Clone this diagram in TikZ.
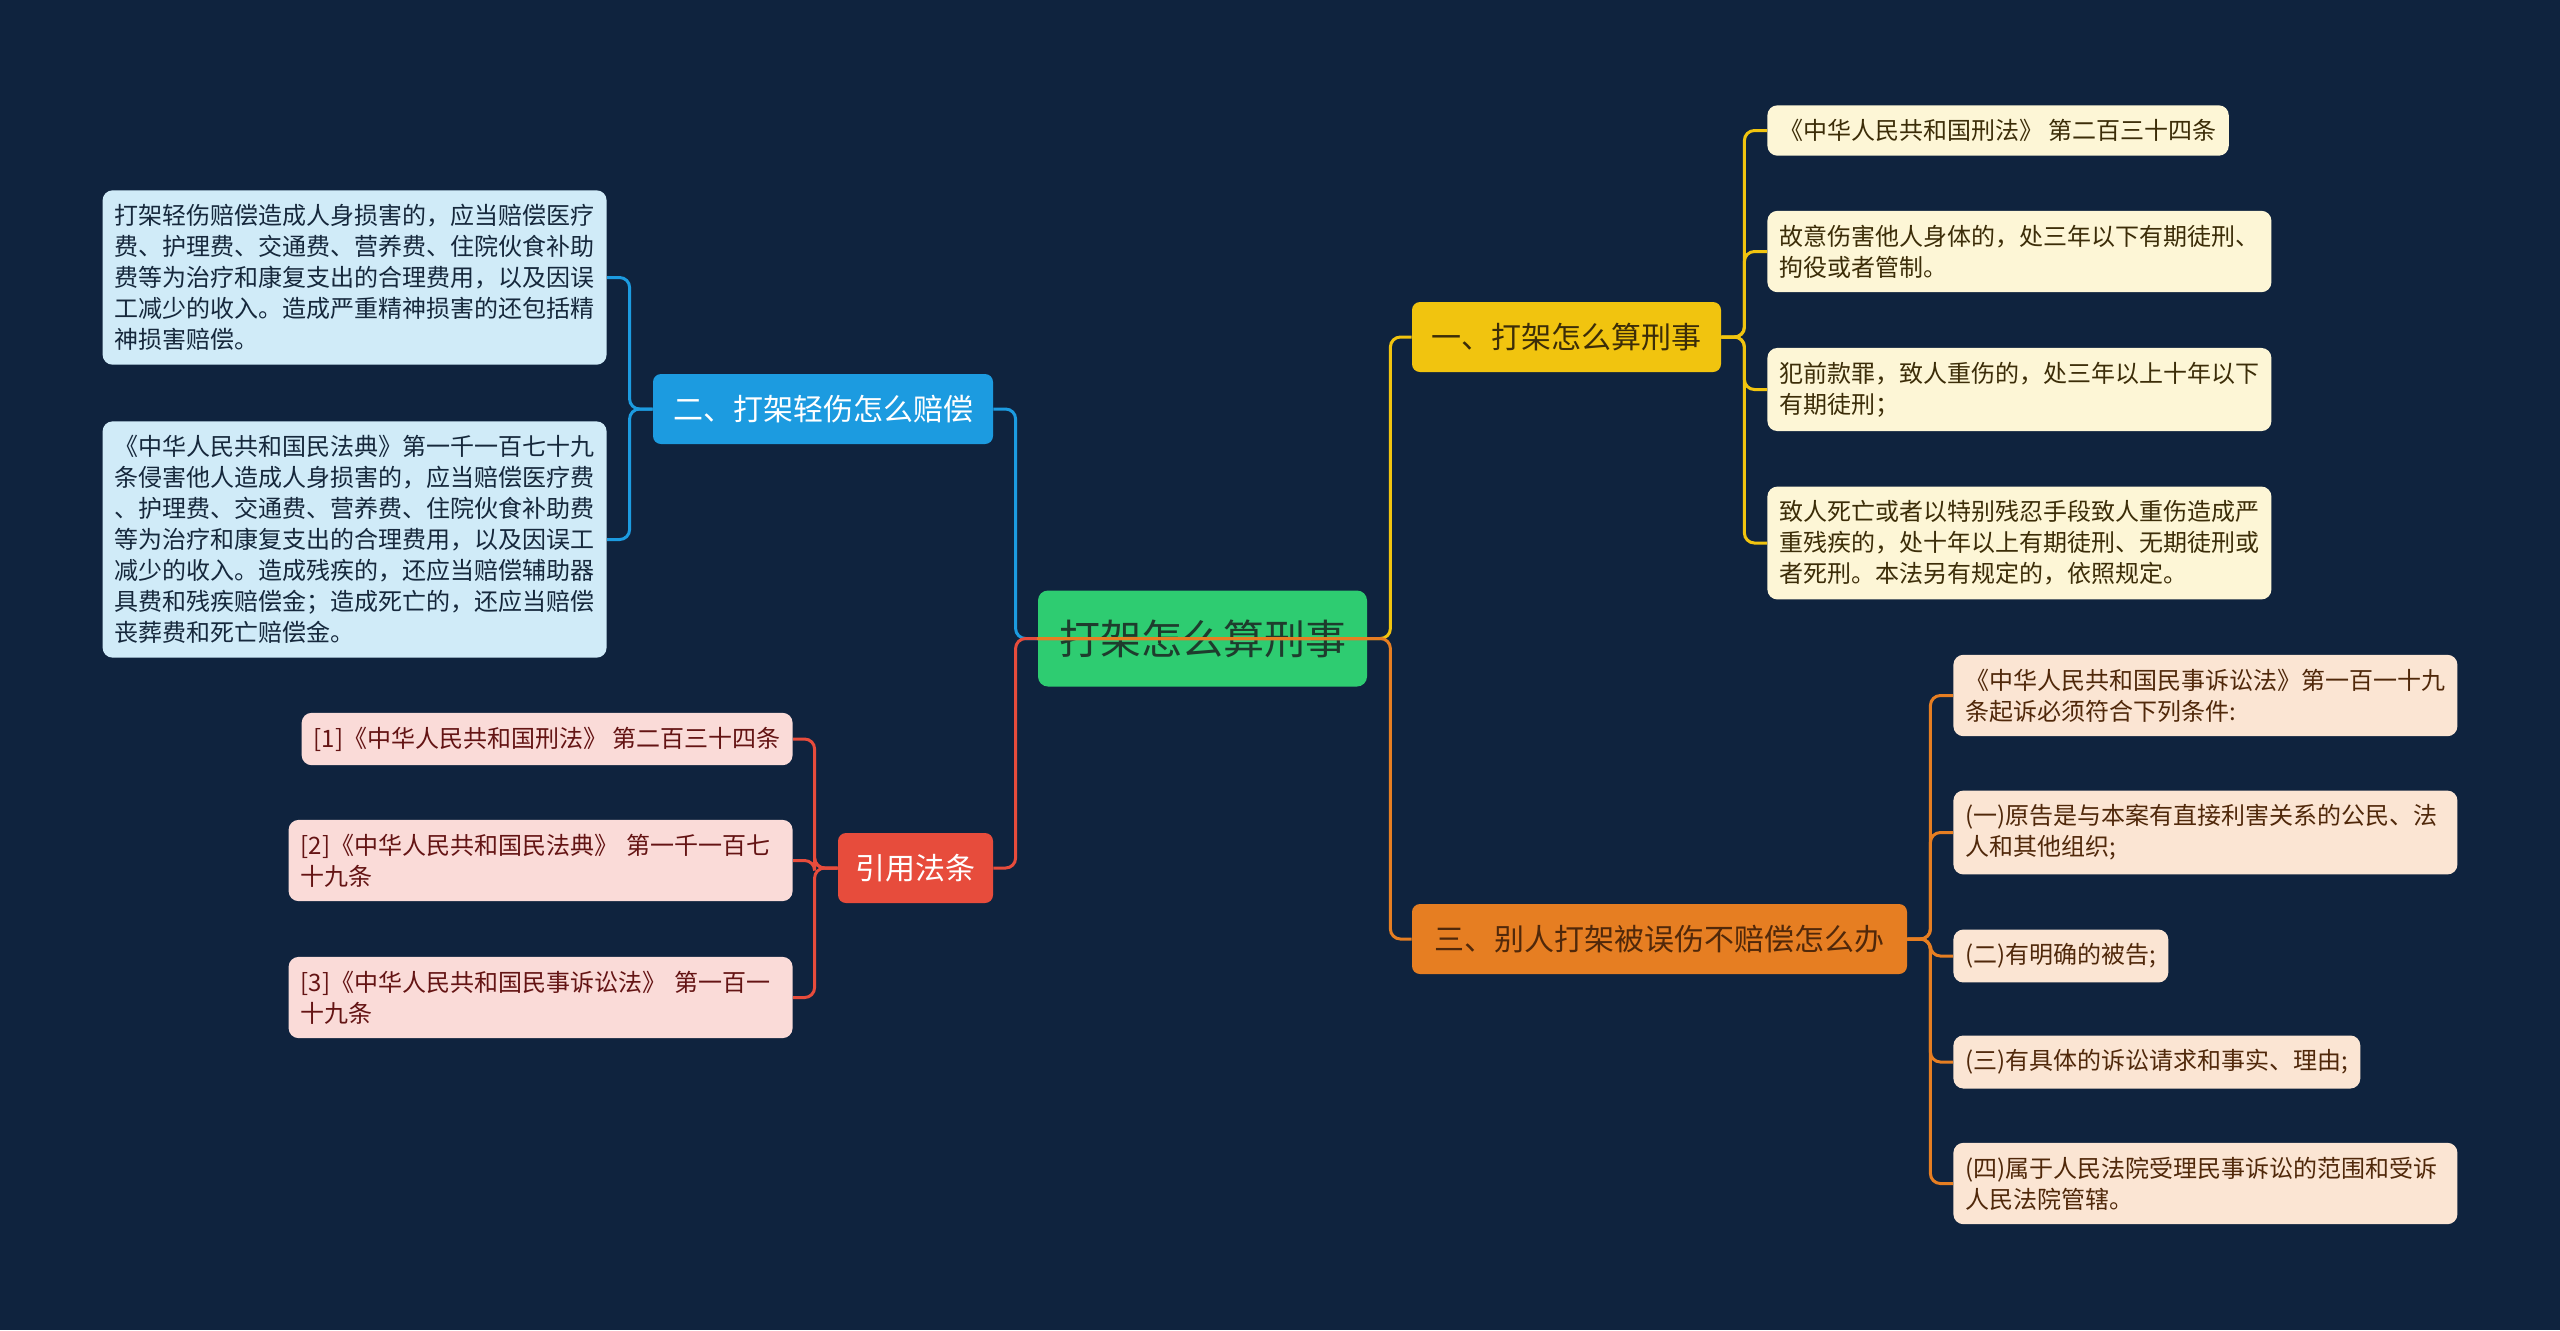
\documentclass[tikz,border=0pt]{standalone}
\usepackage{fontspec}
\setmainfont{Noto Sans CJK SC}
\usepackage{xcolor}
\usepackage{tikz}
\usetikzlibrary{positioning}
\definecolor{bgnavy}{RGB}{15, 35, 62}
\definecolor{hubgreen}{RGB}{46, 204, 113}
\definecolor{hubtext}{RGB}{30, 60, 45}
\definecolor{bryellow}{RGB}{241, 196, 15}
\definecolor{brblue}{RGB}{28, 155, 224}
\definecolor{brred}{RGB}{231, 76, 60}
\definecolor{brorange}{RGB}{230, 126, 34}
\definecolor{lfblue}{RGB}{208, 235, 248}
\definecolor{lfyellow}{RGB}{253, 246, 214}
\definecolor{lfred}{RGB}{250, 219, 216}
\definecolor{lforange}{RGB}{251, 229, 211}
\definecolor{tblue}{RGB}{22, 40, 60}
\definecolor{tyellow}{RGB}{60, 45, 8}
\definecolor{tred}{RGB}{100, 20, 20}
\definecolor{torange}{RGB}{80, 40, 10}

\begin{document}
\begin{tikzpicture}[x=0.5pt, y=-0.5pt,
    every node/.style={font=\fontsize{12}{15.5}\selectfont},
    hub/.style={rounded corners=5pt, fill=hubgreen, text=hubtext, minimum width=164.5pt, minimum height=48pt, font=\fontsize{20.5}{24}\selectfont},
    branch/.style={rounded corners=4pt, minimum height=35pt, inner xsep=7pt, font=\fontsize{15}{18}\selectfont},
    leaf/.style={rounded corners=5pt, inner xsep=6pt, inner ysep=7pt, align=left},
    wide/.style={leaf, text width=240pt},
    link/.style={line width=1.5pt, rounded corners=5pt}]
    \fill [bgnavy] (0,0) rectangle (2560,1330);

    \node [hub] (main) at (1202.5,638.5) {打架怎么算刑事};

    \node [branch, fill=bryellow, text=tyellow, minimum width=154.5pt] (crime) at (1566.5,337) {一、打架怎么算刑事};
    \node [branch, fill=brblue, text=white, minimum width=170pt] (pay) at (823,409) {二、打架轻伤怎么赔偿};
    \node [branch, fill=brred, text=white, minimum width=77.5pt] (laws) at (915.5,868) {引用法条};
    \node [branch, fill=brorange, text=torange, minimum width=247.5pt] (hurt) at (1659.5,939) {三、别人打架被误伤不赔偿怎么办};

    % 二、打架轻伤怎么赔偿
    \node [wide, fill=lfblue, text=tblue, anchor=east] (pay1) at (607,277.5) {打架轻伤赔偿造成人身损害的，应当赔偿医疗\\费、护理费、交通费、营养费、住院伙食补助\\费等为治疗和康复支出的合理费用，以及因误\\工减少的收入。造成严重精神损害的还包括精\\神损害赔偿。};
    \node [wide, fill=lfblue, text=tblue, anchor=east] (pay2) at (607,539.5) {《中华人民共和国民法典》第一千一百七十九\\条侵害他人造成人身损害的，应当赔偿医疗费\\、护理费、交通费、营养费、住院伙食补助费\\等为治疗和康复支出的合理费用，以及因误工\\减少的收入。造成残疾的，还应当赔偿辅助器\\具费和残疾赔偿金；造成死亡的，还应当赔偿\\丧葬费和死亡赔偿金。};

    % 一、打架怎么算刑事
    \node [leaf, fill=lfyellow, text=tyellow, anchor=west] (crime1) at (1767,130.5) {《中华人民共和国刑法》 第二百三十四条};
    \node [wide, fill=lfyellow, text=tyellow, anchor=west] (crime2) at (1767,251.5) {故意伤害他人身体的，处三年以下有期徒刑、\\拘役或者管制。};
    \node [wide, fill=lfyellow, text=tyellow, anchor=west] (crime3) at (1767,389.5) {犯前款罪，致人重伤的，处三年以上十年以下\\有期徒刑；};
    \node [wide, fill=lfyellow, text=tyellow, anchor=west] (crime4) at (1767,543) {致人死亡或者以特别残忍手段致人重伤造成严\\重残疾的，处十年以上有期徒刑、无期徒刑或\\者死刑。本法另有规定的，依照规定。};

    % 三、别人打架被误伤不赔偿怎么办
    \node [wide, fill=lforange, text=torange, anchor=west] (hurt1) at (1953,695.5) {《中华人民共和国民事诉讼法》第一百一十九\\条起诉必须符合下列条件:};
    \node [wide, fill=lforange, text=torange, anchor=west] (hurt2) at (1953,832.5) {(一)原告是与本案有直接利害关系的公民、法\\人和其他组织;};
    \node [leaf, fill=lforange, text=torange, anchor=west] (hurt3) at (1953,956) {(二)有明确的被告;};
    \node [leaf, fill=lforange, text=torange, anchor=west] (hurt4) at (1953,1062) {(三)有具体的诉讼请求和事实、理由;};
    \node [wide, fill=lforange, text=torange, anchor=west] (hurt5) at (1953,1183.5) {(四)属于人民法院受理民事诉讼的范围和受诉\\人民法院管辖。};

    % 引用法条
    \node [leaf, fill=lfred, text=tred, anchor=east] (laws1) at (793,739) {[1]《中华人民共和国刑法》 第二百三十四条};
    \node [wide, fill=lfred, text=tred, anchor=east] (laws2) at (793,860.5) {[2]《中华人民共和国民法典》 第一千一百七\\十九条};
    \node [wide, fill=lfred, text=tred, anchor=east] (laws3) at (793,997.5) {[3]《中华人民共和国民事诉讼法》 第一百一\\十九条};

    \coordinate (jl) at ([xshift=-11pt]main.west);
    \coordinate (jr) at ([xshift=11.5pt]main.east);

    \draw [link, brblue] (main.east) -- (jl) |- (pay.east);
    \draw [link, brred] (main.east) -- (jl) |- (laws.east);
    \draw [link, bryellow] (main.west) -- (jr) |- (crime.west);
    \draw [link, brorange] (main.west) -- (jr) |- (hurt.west);

    \draw [link, brblue] (pay.west) -- ++(-23,0) |- (pay1.east);
    \draw [link, brblue] (pay.west) -- ++(-23,0) |- (pay2.east);

    \draw [link, bryellow] (crime.east) -- ++(23,0) |- (crime1.west);
    \draw [link, bryellow] (crime.east) -- ++(23,0) |- (crime2.west);
    \draw [link, bryellow] (crime.east) -- ++(23,0) |- (crime3.west);
    \draw [link, bryellow] (crime.east) -- ++(23,0) |- (crime4.west);

    \draw [link, brorange] (hurt.east) -- ++(23,0) |- (hurt1.west);
    \draw [link, brorange] (hurt.east) -- ++(23,0) |- (hurt2.west);
    \draw [link, brorange] (hurt.east) -- ++(23,0) |- (hurt3.west);
    \draw [link, brorange] (hurt.east) -- ++(23,0) |- (hurt4.west);
    \draw [link, brorange] (hurt.east) -- ++(23,0) |- (hurt5.west);

    \draw [link, brred] (laws.west) -- ++(-23,0) |- (laws1.east);
    \draw [link, brred] (laws.west) -- ++(-23,0) |- (laws2.east);
    \draw [link, brred] (laws.west) -- ++(-23,0) |- (laws3.east);
\end{tikzpicture}
\end{document}
